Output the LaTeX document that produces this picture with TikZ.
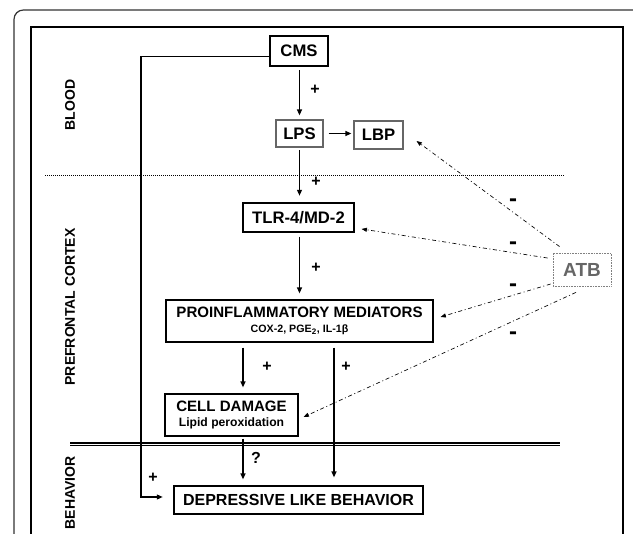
\documentclass[tikz,border=0pt]{standalone}
\usepackage{fontspec}
\setmainfont{Liberation Sans}
\usetikzlibrary{arrows.meta}

\begin{document}
\begin{tikzpicture}[x=0.75pt,y=0.75pt,yscale=-1,xscale=1,
  box/.style={draw,line width=0.8pt,inner sep=0pt,align=center,font=\bfseries\fontsize{12.5}{14}\selectfont},
  arr/.style={line width=1.1pt,-{Triangle[length=4.5pt,width=3.6pt]}},
  inhib/.style={line width=0.5pt,dash pattern={on 3pt off 2pt on 0.7pt off 2pt},-{Triangle[length=4pt,width=3pt]}},
  sign/.style={font=\bfseries\fontsize{12}{14}\selectfont,inner sep=0pt},
  side/.style={rotate=90,font=\bfseries\fontsize{10.5}{12}\selectfont,inner sep=0pt}]
\path[use as bounding box] (0,0) rectangle (633,534);
\clip (0,0) rectangle (633,534);

%Shape: Frames
\draw[line width=0.9pt,rounded corners=7pt,color=black!80] (14,10) rectangle (660,570);
\draw[line width=2pt] (31,27) rectangle (623,570);
%Straight Lines: compartment borders
\draw[line width=0.6pt,dash pattern={on 0.75pt off 0.75pt}] (45,175) -- (565,175);
\draw[line width=0.8pt,double,double distance=1.4pt] (70,444.5) -- (560,444.5);

% Text Node: compartments
\node[side] (blood) at (70,105) {BLOOD};
\node[side] (cortex) at (70,307) {PREFRONTAL CORTEX};
\node[side] (behav) at (70,493) {BEHAVIOR};

% Text Node: boxes
\node[box,line width=1.4pt,minimum width=43.5pt,minimum height=22.5pt] (cms) at (299,51) {CMS};
\node[box,draw=black!60,minimum width=35.25pt,minimum height=20.25pt] (lps) at (299.5,133.5) {LPS};
\node[box,draw=black!60,minimum width=36.75pt,minimum height=21pt] (lbp) at (378.5,135) {LBP};
\node[box,minimum width=83.25pt,minimum height=21.75pt] (tlr) at (298.5,217.5) {TLR-4/MD-2};
\node[box,minimum width=200.25pt,minimum height=31.5pt,font=\bfseries\fontsize{11.3}{12}\selectfont] (pro) at (299.5,321)
  {PROINFLAMMATORY MEDIATORS\\[-1pt]{\fontsize{8}{9}\selectfont COX-2, PGE\textsubscript{2}, IL-1β}};
\node[box,minimum width=99.75pt,minimum height=31.5pt,font=\bfseries\fontsize{11.3}{12}\selectfont] (cell) at (231.5,415)
  {CELL DAMAGE\\[-1pt]{\fontsize{9.1}{10}\selectfont Lipid peroxidation}};
\node[box,minimum width=186.75pt,minimum height=21pt,font=\bfseries\fontsize{12}{14}\selectfont] (dep) at (298.5,500) {DEPRESSIVE LIKE BEHAVIOR};
\node[box,draw=black!50,line width=0.6pt,dash pattern={on 0.6pt off 0.6pt},text=black!60,minimum width=43.5pt,minimum height=24.75pt,font=\bfseries\fontsize{14.2}{16}\selectfont] (atb) at (582,269.5) {ATB};

\coordinate (c1) at (243,0);
\coordinate (c2) at (334,0);
\coordinate (turn) at (141,497);

%Straight Lines: activation
\draw[arr,shorten <=2.5pt,shorten >=3pt] (cms.south -| lps.north) -- (lps.north);
\draw[arr,shorten <=3.75pt,shorten >=1.5pt] (lps.east) -- (lps.east -| lbp.west);
\draw[arr,shorten <=2pt,shorten >=5pt] (lps.south) -- (lps.south |- tlr.north);
\draw[arr,shorten <=3pt,shorten >=4.5pt] (tlr.south -| lps.south) -- (lps.south |- pro.north);
\draw[arr,shorten <=3.75pt,shorten >=4.5pt] (pro.south -| c1) -- (cell.north -| c1);
\draw[arr,shorten <=3.75pt,shorten >=6pt] (pro.south -| c2) -- (dep.north -| c2);
\draw[arr,shorten <=1.5pt,shorten >=4.5pt] (cell.south -| c1) -- (dep.north -| c1);
\draw[arr,shorten >=8pt] ([yshift=4.3pt]cms.west) -| (turn) -- (turn -| dep.west);

%Straight Lines: inhibition
\draw[inhib] ([xshift=5.25pt,yshift=-4.5pt]atb.north west) -- ([xshift=9.75pt,yshift=4.5pt]lbp.east);
\draw[inhib] ([xshift=-3.75pt,yshift=-8.6pt]atb.west) -- ([xshift=5.25pt,yshift=8.6pt]tlr.east);
\draw[inhib] ([xshift=-1.5pt,yshift=10.9pt]atb.west) -- ([xshift=5.25pt,yshift=-3pt]pro.east);
\draw[inhib] ([xshift=-4.5pt,yshift=4.5pt]atb.south) -- ([xshift=3.75pt,yshift=1.5pt]cell.east);

% Text Node: signs
\node[sign] (p1) at (315,90) {+};
\node[sign] (p2) at (316,182) {+};
\node[sign] (p3) at (316,268) {+};
\node[sign] (p4) at (267,367) {+};
\node[sign] (p5) at (346,367) {+};
\node[sign] (p6) at (153,478) {+};
\node[sign] (q1) at (256,458) {?};
\node[sign,font=\bfseries\fontsize{18}{18}\selectfont] (m1) at (513,203) {-};
\node[sign,font=\bfseries\fontsize{18}{18}\selectfont] (m2) at (513,246) {-};
\node[sign,font=\bfseries\fontsize{18}{18}\selectfont] (m3) at (513,288) {-};
\node[sign,font=\bfseries\fontsize{18}{18}\selectfont] (m4) at (513,336) {-};

\end{tikzpicture}
\end{document}
